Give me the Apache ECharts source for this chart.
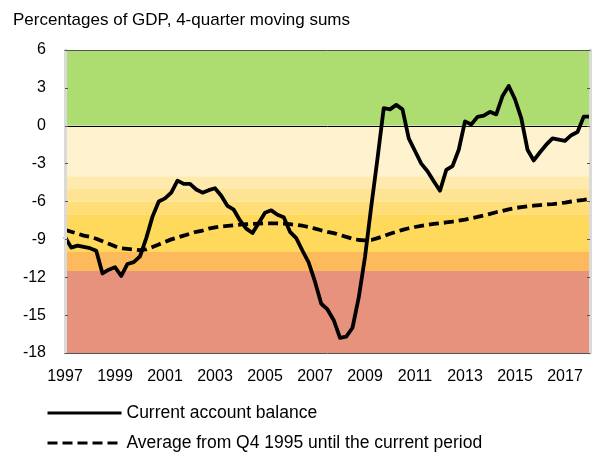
<!DOCTYPE html>
<html>
<head>
<meta charset="utf-8">
<script src="https://cdn.jsdelivr.net/npm/echarts@6/dist/echarts.min.js"></script>
<style>
  html, body { margin: 0; padding: 0; background: #fff; }
  #chart { width: 593px; height: 452px; }
</style>
</head>
<body>
<div id="chart"></div>
<script>
// quarterly observations, 1997Q1 .. 2018Q1
const startYear = 1997
const quarters = []
for (let y = startYear; y <= 2018; y++) {
  for (let q = 1; q <= 4; q++) {
    if (y === 2018 && q > 1) break
    quarters.push(y + 'Q' + q)
  }
}

const xTickYears = ['1997', '1999', '2001', '2003', '2005', '2007', '2009', '2011', '2013', '2015', '2017']

const currentAccount = [
  -8.8, -9.65, -9.5, -9.6, -9.7, -9.9, -11.7, -11.4, -11.2, -11.9,
  -10.95, -10.8, -10.35, -8.9, -7.2, -6.0, -5.75, -5.3, -4.35, -4.6,
  -4.6, -5.05, -5.3, -5.1, -4.95, -5.55, -6.35, -6.65, -7.5, -8.15,
  -8.5, -7.7, -6.9, -6.7, -7.05, -7.25, -8.4, -8.9, -9.9, -10.85,
  -12.35, -14.1, -14.55, -15.4, -16.8, -16.7, -16.0, -13.6, -10.4, -6.4,
  -2.6, 1.4, 1.3, 1.65, 1.3, -1.0, -2.0, -3.0, -3.6, -4.4,
  -5.15, -3.5, -3.2, -1.9, 0.35, 0.1, 0.7, 0.8, 1.1, 0.9,
  2.35, 3.15, 2.1, 0.6, -1.9, -2.75, -2.1, -1.5, -1.0, -1.1,
  -1.2, -0.75, -0.5, 0.72, 0.72
]

const averageSince1995 = [
  -8.25, -8.4, -8.55, -8.7, -8.8, -8.95, -9.15, -9.35, -9.55, -9.7,
  -9.75, -9.8, -9.85, -9.8, -9.6, -9.4, -9.2, -9.0, -8.85, -8.7,
  -8.55, -8.4, -8.3, -8.15, -8.05, -7.98, -7.93, -7.88, -7.83, -7.8,
  -7.77, -7.75, -7.73, -7.73, -7.74, -7.76, -7.8, -7.85, -7.92, -8.02,
  -8.15, -8.28, -8.4, -8.5, -8.65, -8.8, -8.95, -9.05, -9.08, -9.05,
  -8.9, -8.75, -8.55, -8.4, -8.25, -8.12, -8.02, -7.93, -7.85, -7.78,
  -7.72, -7.66, -7.6, -7.52, -7.43, -7.33, -7.22, -7.1, -6.98, -6.85,
  -6.75, -6.62, -6.52, -6.45, -6.38, -6.33, -6.28, -6.24, -6.2, -6.15,
  -6.08, -6.0, -5.93, -5.87, -5.8
]

// threshold bands (percent of GDP), top to bottom
const bandEdges = [6, 0, -4, -5, -6, -7, -10, -11.5, -18]
const bandColors = ['#addc70', '#fff2cf', '#ffeaae', '#ffe394', '#ffdd77', '#ffd95c', '#fdba5d', '#e6927c']

const seriesNames = ['Current account balance', 'Average from Q4 1995 until the current period']

const font = 'Liberation Sans, Arial, sans-serif'

const bands = []
for (let i = 0; i < bandColors.length; i++) {
  bands.push([
    { yAxis: bandEdges[i], itemStyle: { color: bandColors[i] } },
    { yAxis: bandEdges[i + 1] }
  ])
}

const chart = echarts.init(document.getElementById('chart'), null, { renderer: 'canvas' })

const yAxisBase = {
  type: 'value',
  min: -18,
  max: 6,
  interval: 3,
  z: 5,
  splitLine: { show: false },
  axisLine: { show: true, lineStyle: { color: '#dadada', width: 3 } },
  axisTick: { show: true, inside: true, length: 3, lineStyle: { color: '#555' } }
}

chart.setOption({
  animation: false,
  textStyle: { fontFamily: font },
  title: {
    text: 'Percentages of GDP, 4-quarter moving sums',
    left: 8,
    top: 7,
    textStyle: { fontFamily: font, fontSize: 17, fontWeight: 'normal', color: '#000' }
  },
  grid: { left: 65, right: 3, top: 50, bottom: 99 },
  legend: {
    orient: 'vertical',
    left: 46,
    top: 404,
    padding: 0,
    itemWidth: 74,
    itemHeight: 14,
    itemGap: 12,
    data: seriesNames,
    itemStyle: { opacity: 0 },
    lineStyle: { width: 3 },
    textStyle: { fontFamily: font, fontSize: 17.5, lineHeight: 16, color: '#000' }
  },
  xAxis: [
    {
      type: 'category',
      data: quarters,
      boundaryGap: false,
      position: 'bottom',
      z: 5,
      axisLine: { show: true, onZero: false, lineStyle: { color: '#555', width: 1 } },
      axisTick: { show: false },
      axisLabel: {
        fontFamily: font,
        fontSize: 16,
        color: '#000',
        margin: 16,
        interval: (idx, val) => val.endsWith('Q1') && xTickYears.includes(val.slice(0, 4)),
        formatter: (val) => val.slice(0, 4)
      },
      splitLine: { show: false }
    },
    {
      type: 'category',
      data: quarters,
      boundaryGap: false,
      position: 'top',
      z: 5,
      axisLine: { show: true, onZero: false, lineStyle: { color: '#555', width: 1 } },
      axisTick: { show: false },
      axisLabel: { show: false },
      splitLine: { show: false }
    }
  ],
  yAxis: [
    Object.assign({}, yAxisBase, {
      position: 'left',
      axisLabel: { fontFamily: font, fontSize: 16, color: '#000', margin: 19 }
    }),
    Object.assign({}, yAxisBase, {
      position: 'right',
      axisLabel: { show: false }
    })
  ],
  series: [
    {
      name: seriesNames[0],
      type: 'line',
      data: currentAccount,
      symbol: 'none',
      z: 4,
      lineStyle: { color: '#000', width: 3.8, join: 'round' },
      itemStyle: { color: '#000' },
      markArea: { silent: true, z: 1, data: bands },
      markLine: {
        silent: true,
        symbol: 'none',
        label: { show: false },
        lineStyle: { color: '#000', width: 1, type: 'solid' },
        data: [{ yAxis: 0 }]
      }
    },
    {
      name: seriesNames[1],
      type: 'line',
      data: averageSince1995,
      symbol: 'none',
      z: 3,
      lineStyle: { color: '#000', width: 3.8, type: [10, 5] },
      itemStyle: { color: '#000' }
    }
  ]
})
</script>
</body>
</html>
